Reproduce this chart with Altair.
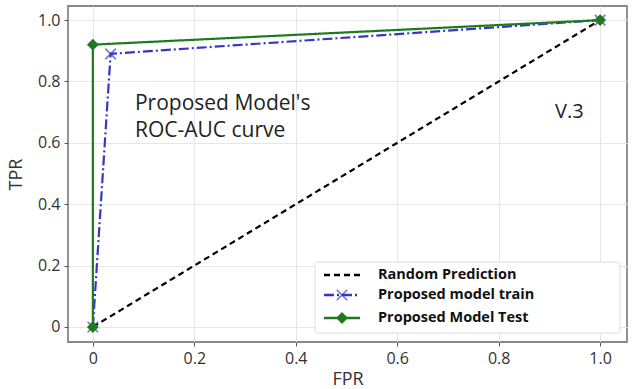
import altair as alt
import pandas as pd

series_names = ["Random Prediction", "Proposed model train", "Proposed Model Test"]
random_fpr = [0.0, 1.0]
random_tpr = [0.0, 1.0]
train_fpr = [0.0, 0.035, 1.0]
train_tpr = [0.0, 0.89, 1.0]
test_fpr = [0.0, 0.0, 1.0]
test_tpr = [0.0, 0.92, 1.0]
x_ticks = [0, 0.2, 0.4, 0.6, 0.8, 1.0]
y_ticks = [0, 0.2, 0.4, 0.6, 0.8, 1.0]
colors = ["black", "#3535c8", "#1f7a1f"]
dashes = [[6, 4], [10, 3, 2, 3], [1, 0]]
X_PATH = "M-1,-1L1,1M1,-1L-1,1"

rows = []
for name, xs_, ys_ in [(series_names[0], random_fpr, random_tpr),
                       (series_names[1], train_fpr, train_tpr),
                       (series_names[2], test_fpr, test_tpr)]:
    for i, (x, y) in enumerate(zip(xs_, ys_)):
        rows.append({"series": name, "FPR": x, "TPR": y, "order": i})
df = pd.DataFrame(rows)

label_expr = "datum.value == 0 ? '0' : format(datum.value, '.1f')"
xs = alt.Scale(domain=[-0.049, 1.053], nice=False, zero=False)
ys = alt.Scale(domain=[-0.049, 1.046], nice=False, zero=False)

x_enc = alt.X("FPR:Q", scale=xs, axis=alt.Axis(values=x_ticks, labelExpr=label_expr, title="FPR"))
y_enc = alt.Y("TPR:Q", scale=ys, axis=alt.Axis(values=y_ticks, labelExpr=label_expr, title="TPR",
                                               titleX=-43, titleBaseline="bottom"))

color = alt.Color("series:N", scale=alt.Scale(domain=series_names, range=colors), legend=None)
dash = alt.StrokeDash("series:N", scale=alt.Scale(domain=series_names, range=dashes), legend=None)

lines = alt.Chart(df).mark_line(strokeWidth=2.2).encode(
    x=x_enc, y=y_enc, color=color, strokeDash=dash, order="order:Q")

train_pts = alt.Chart(df[df.series == series_names[1]]).mark_point(
    shape=X_PATH, filled=False, size=110, strokeWidth=1.5, color=colors[1]).encode(x=x_enc, y=y_enc)
test_pts = alt.Chart(df[df.series == series_names[2]]).mark_point(
    shape="diamond", filled=True, size=140, opacity=1, color=colors[2]).encode(x=x_enc, y=y_enc)

ann = pd.DataFrame({"FPR": [0.083, 0.083, 0.911], "TPR": [0.727, 0.638, 0.70],
                    "text": ["Proposed Model's", "ROC-AUC curve", "V.3"],
                    "size": [21, 21, 20]})
texts = alt.Chart(ann).mark_text(align="left", baseline="middle", font="Open Sans", color="#222").encode(
    x="FPR:Q", y="TPR:Q", text="text:N", size=alt.Size("size:Q", scale=None, legend=None))

# hand-drawn legend (positions in plot-area pixels)
leg_df = pd.DataFrame({"series": series_names, "row": [0, 1, 2]})
LX0, LX1, LY0, LY1 = 247, 552, 256, 327
row_y = "[269, 289, 312][datum.row]"
leg_box = alt.Chart(pd.DataFrame({"a": [0]})).mark_rect(
    fill="white", stroke="#dddddd", strokeWidth=1, cornerRadius=3).encode(
    x=alt.value(LX0), x2=alt.value(LX1), y=alt.value(LY0), y2=alt.value(LY1))
leg_base = alt.Chart(leg_df).transform_calculate(py=row_y)
leg_lines = leg_base.mark_rule(strokeWidth=2.5).encode(
    x=alt.value(256), x2=alt.value(292), y=alt.Y("py:Q", scale=None),
    color=color, strokeDash=dash)
leg_x = leg_base.transform_filter(alt.datum.row == 1).mark_point(
    shape=X_PATH, filled=False, size=110, strokeWidth=1.5, color=colors[1]).encode(
    x=alt.value(274), y=alt.Y("py:Q", scale=None))
leg_d = leg_base.transform_filter(alt.datum.row == 2).mark_point(
    shape="diamond", filled=True, size=140, opacity=1, color=colors[2]).encode(
    x=alt.value(274), y=alt.Y("py:Q", scale=None))
leg_text = leg_base.mark_text(align="left", baseline="middle", font="Open Sans",
                              fontSize=14.5, fontWeight="bold", color="#111").encode(
    x=alt.value(310), y=alt.Y("py:Q", scale=None), text="series:N")

chart = alt.layer(lines, train_pts, test_pts, texts, leg_box, leg_lines, leg_x, leg_d, leg_text).properties(
    width=559, height=336,
    padding={"left": 68, "top": 6, "right": 10, "bottom": 47},
    autosize=alt.AutoSizeParams(type="none"),
).configure_view(stroke="#888", strokeWidth=1.8).configure_axis(
    gridColor="#e6e6e6", domain=False, tickColor="#555", tickSize=4,
    labelFont="Open Sans", labelFontSize=16, labelColor="#333", labelPadding=4,
    titleFont="Open Sans", titleFontSize=18, titleFontWeight="normal", titleColor="#333"
)

chart.save("out.html", embed_options={"renderer": "svg", "actions": False})
